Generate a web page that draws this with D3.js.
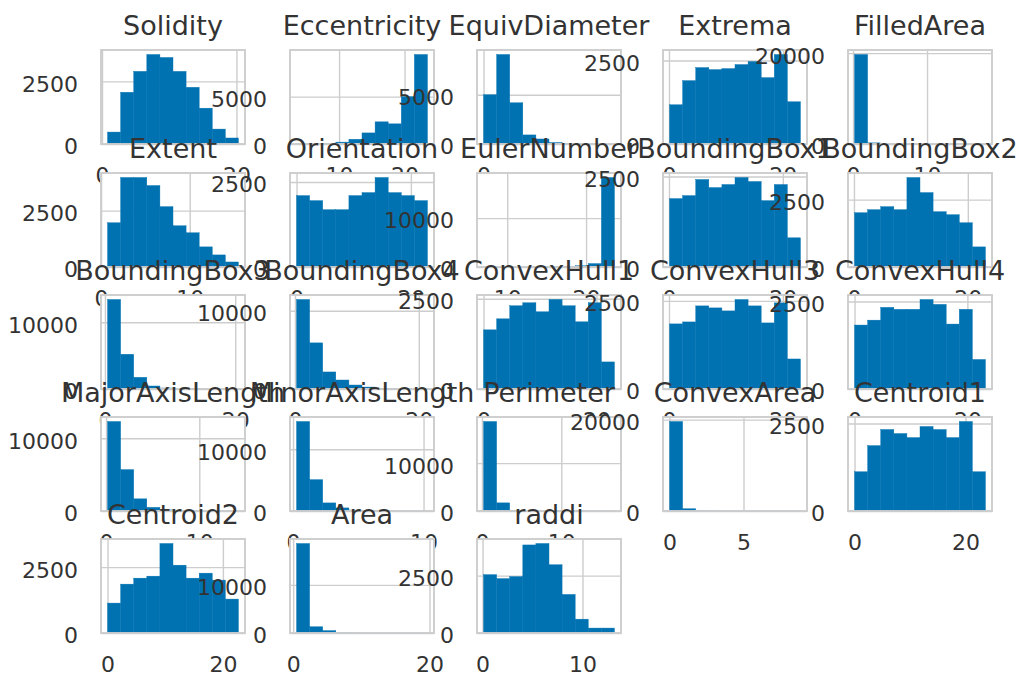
<!DOCTYPE html>
<html><head><meta charset="utf-8">
<script src="https://cdn.jsdelivr.net/npm/d3@7"></script>
<style>body{margin:0;background:#fff}text{font-family:"DejaVu Sans",sans-serif}</style>
</head><body><svg id="c" width="1029" height="680"></svg>
<script>
const titles = ["Solidity","Eccentricity","EquivDiameter","Extrema","FilledArea",
  "Extent","Orientation","EulerNumber","BoundingBox1","BoundingBox2",
  "BoundingBox3","BoundingBox4","ConvexHull1","ConvexHull3","ConvexHull4",
  "MajorAxisLength","MinorAxisLength","Perimeter","ConvexArea","Centroid1",
  "Centroid2","Area","raddi"];

const counts = [
  [476, 2063, 2897, 3571, 3452, 2897, 2262, 1429, 595, 240],
  [10, 20, 60, 200, 500, 1170, 2340, 2128, 5000, 9450],
  [5000, 9080, 4180, 920, 510, 150, 60, 25, 10, 5],
  [1175, 1898, 2289, 2229, 2259, 2380, 2470, 1988, 2681, 1265],
  [19700, 250, 40, 15, 8, 4, 2, 1, 1, 1],
  [1964, 3973, 3973, 3616, 2679, 1830, 1518, 893, 536, 223],
  [2102, 1954, 1687, 1687, 2102, 2190, 2635, 2190, 2102, 1954],
  [20, 10, 10, 20, 30, 60, 120, 250, 700, 18300],
  [1889, 1972, 2417, 2194, 2278, 2472, 2361, 1833, 2278, 806],
  [2015, 2127, 2239, 2127, 3321, 2761, 2052, 1940, 1642, 746],
  [13400, 5200, 1750, 450, 150, 60, 30, 15, 8, 5],
  [11450, 5900, 2180, 1150, 510, 250, 100, 40, 20, 10],
  [1639, 1944, 2306, 2389, 2139, 2480, 2306, 1861, 2389, 750],
  [1847, 1903, 2358, 2301, 2216, 2540, 2358, 1875, 2443, 852],
  [1826, 1966, 2331, 2275, 2275, 2556, 2416, 1854, 2275, 843],
  [12300, 5690, 1670, 500, 150, 60, 25, 10, 5, 3],
  [14500, 5080, 1310, 500, 150, 50, 20, 10, 5, 3],
  [18700, 1700, 150, 40, 15, 8, 4, 2, 1, 1],
  [19600, 500, 50, 20, 10, 5, 3, 2, 1, 1],
  [1121, 1868, 2328, 2213, 2098, 2414, 2328, 2098, 2557, 1121],
  [1136, 1856, 2083, 2159, 3400, 2576, 2083, 2273, 2008, 1288],
  [18600, 1300, 500, 100, 30, 10, 5, 2, 1, 1],
  [2543, 2370, 2457, 3836, 3900, 2974, 1681, 603, 215, 215]
];

const xMin = [0.82, 3.5, 0, 0.1, 0.2, 0.73, 0, 7.0, 0.1, 0.1, 0.4, 0.25, 0, 0.1, 0, 0.16, 0.27, 0.2, 0, 0, 0, 0.5, 0.1];
const xMax = [20.3, 23.5, 18.5, 23.1, 17.9, 15.5, 22.9, 23.6, 23.1, 23.1, 20.5, 21.4, 23.2, 23.1, 23.2, 14.2, 10.3, 16.7, 8.85, 23.6, 22.7, 19.7, 13.2];

const xTicks = [
  [0,20],[10,20],[0,20],[0,20],[0,10],
  [0,10],[0,20],[10,20],[0,20],[0,20],
  [0,20],[0,20],[0,20],[0,20],[0,20],
  [0,10],[0,10],[0,10],[0,5],[0,20],
  [0,20],[0,20],[0,10]
];
const yTickStep = [2500,5000,5000,2500,20000,2500,2500,10000,2500,2500,10000,10000,2500,2500,2500,10000,10000,10000,20000,2500,2500,10000,2500];

const W = 144, H = 94;
const colLeft = [101, 290, 477, 663, 848];
const rowTop = [50, 173, 295, 417, 539];
const barColor = "#0072B2", gridColor = "#cdcdcd", textColor = "#333";

const svg = d3.select("#c");
svg.append("rect").attr("width", 1029).attr("height", 680).attr("fill", "#fff");

titles.forEach((t, i) => {
  const r = Math.floor(i / 5), c = i % 5;
  const g = svg.append("g").attr("transform", `translate(${colLeft[c]},${rowTop[r]})`);
  const lo = xMin[i], hi = xMax[i], span = hi - lo;
  const x = d3.scaleLinear().domain([lo - 0.05 * span, hi + 0.05 * span]).range([0, W]);
  const ymax = d3.max(counts[i]) * 1.05;
  const y = d3.scaleLinear().domain([0, ymax]).range([H, 0]);
  const edges = d3.range(11).map(k => lo + span * k / 10);
  const xt = xTicks[i].filter(v => v >= x.domain()[0] && v <= x.domain()[1]);
  const yt = d3.range(0, ymax, yTickStep[i]);

  g.append("rect").attr("width", W).attr("height", H).attr("fill", "#fff");

  // grid
  const gx = g.append("g").attr("transform", `translate(0,${H})`)
    .call(d3.axisBottom(x).tickValues(xt).tickSize(-H).tickFormat(""));
  const gy = g.append("g").call(d3.axisLeft(y).tickValues(yt).tickSize(-W).tickFormat(""));
  [gx, gy].forEach(a => {
    a.select(".domain").remove();
    a.selectAll("line").attr("stroke", gridColor).attr("stroke-width", 1.4);
  });

  // bars
  g.selectAll("rect.bar").data(counts[i]).join("rect").attr("class", "bar")
    .attr("x", (d, k) => x(edges[k]))
    .attr("width", (d, k) => x(edges[k + 1]) - x(edges[k]))
    .attr("y", d => y(d))
    .attr("height", d => H - y(d))
    .attr("fill", barColor).attr("stroke", barColor).attr("stroke-width", 0.4);

  // frame
  g.append("rect").attr("width", W).attr("height", H)
    .attr("fill", "none").attr("stroke", gridColor).attr("stroke-width", 1.9);

  // labels
  const ly = g.append("g").call(d3.axisLeft(y).tickValues(yt).tickSize(0).tickPadding(23).tickFormat(d3.format("d")));
  const lx = g.append("g").attr("transform", `translate(0,${H})`)
    .call(d3.axisBottom(x).tickValues(xt).tickSize(0).tickPadding(23).tickFormat(d3.format("d")));
  [lx, ly].forEach(a => {
    a.select(".domain").remove();
    a.selectAll("text").attr("fill", textColor).style("font-size", "22px")
      .style("font-family", '"DejaVu Sans", sans-serif');
  });
  ly.selectAll("text").attr("dy", "0.45em");

  g.append("text").attr("x", W / 2).attr("y", -15).attr("text-anchor", "middle")
    .attr("fill", textColor).style("font-size", "27px").text(t);
});
</script></body></html>
